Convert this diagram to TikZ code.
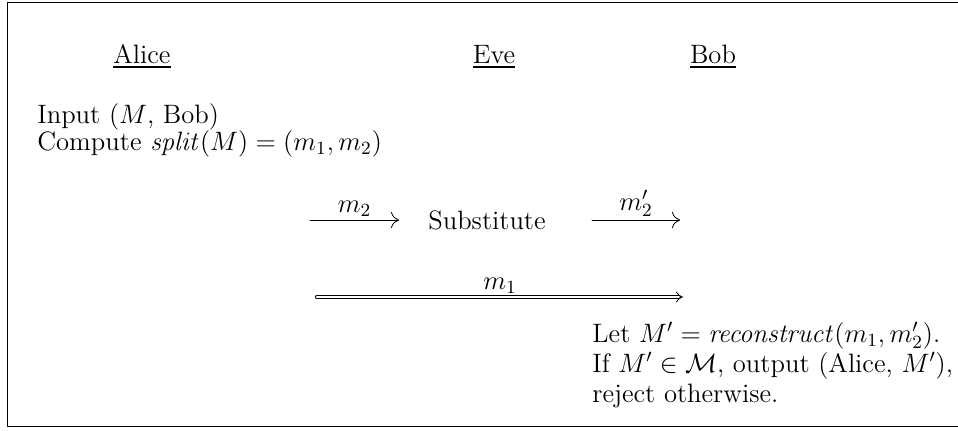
\RequirePackage{fix-cm}
\documentclass[tikz,border=0pt]{standalone}
\usepackage{amsmath, amssymb}
\usetikzlibrary{arrows.meta, positioning}
\tikzset{every node/.style={font=\fontsize{13.3}{13.5}\selectfont}, every path/.style={line cap=round, line join=round}, >={To[length=4pt, width=8pt]}}

\begin{document}
\begin{tikzpicture}[
    x=0.5pt, y=-0.5pt,
    party/.style={
        anchor=base,
        inner sep=0pt
    },
    action/.style={
        anchor=west,
        align=left,
        inner sep=0pt
    },
    msg/.style={
        ->,
        thin
    },
    dblmsg/.style={
        double,
        double distance=1.4pt,
        -{Implies}
    },
    msglabel/.style={
        above,
        inner sep=1.5pt
    }
]
\useasboundingbox (0,0) rectangle (958,430);

% frame, open on the right
\draw (958,2) -- (7,2) -- (7,426) -- (958,426);

% parties
\node[party] (alice) at (142,63) {\underline{Alice}};
\node[party] (eve) at (494,63) {\underline{Eve}};
\node[party] (bob) at (713,63) {\underline{Bob}};

\node[action] (split) at (37,130)
{Input ($M$, Bob)\\Compute $\mathit{split}(M) = (m_1, m_2)$};

% Eve substitutes the second part
\node[inner sep=0pt] (subst) at (487,220) {Substitute};
\coordinate (m2from) at (310,220);
\coordinate (m2to) at (399,220);
\coordinate (m2pfrom) at (592,220);
\coordinate (m2pto) at (680,220);
\draw[msg] (m2from) -- node[msglabel] {$m_2$} (m2to);
\draw[msg] (m2pfrom) -- node[msglabel] {$m_2'$} (m2pto);

% first part passes unchanged
\coordinate (m1from) at (317,297);
\coordinate (m1to) at (683,297);
\draw[dblmsg] (m1from) -- node[msglabel] {$m_1$} (m1to);

\node[action, font=\fontsize{13.3}{15}\selectfont] (recon) at (592,365)
{Let $M' = \mathit{reconstruct}(m_1, m_2')$.\\If $M' \in \mathcal{M}$, output (Alice, $M'$),\\reject otherwise.};

\end{tikzpicture}
\end{document}
